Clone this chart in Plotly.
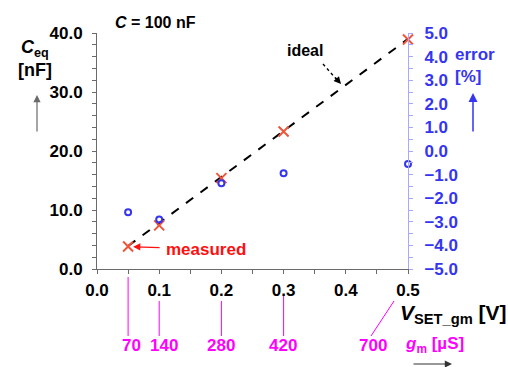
import plotly.graph_objects as go

# Measured equivalent capacitance vs. set voltage
v_set = [0.05, 0.1, 0.2, 0.3, 0.5]
c_eq_measured = [3.8, 7.4, 15.4, 23.3, 38.9]
error_pct = [-2.6, -2.9, -1.37, -0.94, -0.55]

# Ideal characteristic (straight line)
v_ideal = [0.05, 0.5]
c_eq_ideal = [3.9, 39.0]

# Transconductance values belonging to each set voltage
gm_labels = ["70", "140", "280", "420", "700"]

x_ticks = [0.0, 0.1, 0.2, 0.3, 0.4, 0.5]
x_ticktext = ["0.0", "0.1", "0.2", "0.3", "0.4", "0.5"]

W, H = 508, 367
ML, MR, MT, MB = 97, 100, 33, 98
PW, PH = W - ML - MR, H - MT - MB


def px(x):
    return (x - ML) / PW


def py(y):
    return (MT + PH - y) / PH


FONT = "Liberation Sans"
BLUE = "#3535f0"
RED = "#ff1010"
MAGENTA = "#ff00ff"
GRAY = "#6a6a6a"

fig = go.Figure()

fig.add_trace(go.Scatter(
    x=v_ideal, y=c_eq_ideal, mode="lines", cliponaxis=False,
    line=dict(color="black", width=2, dash="dash"),
    showlegend=False, hoverinfo="skip",
))
fig.add_trace(go.Scatter(
    x=v_set, y=c_eq_measured, mode="markers", cliponaxis=False,
    marker=dict(symbol="x-thin-open", size=10, line=dict(color=RED, width=2)),
    showlegend=False,
))
fig.add_trace(go.Scatter(
    x=v_set, y=error_pct, mode="markers", yaxis="y2", cliponaxis=False,
    marker=dict(symbol="circle-open", size=6, color=BLUE, line=dict(color=BLUE, width=2)),
    showlegend=False,
))

tick_font = dict(family=FONT, size=17, color="black", weight="bold")

fig.update_layout(
    width=W, height=H,
    margin=dict(l=ML, r=MR, t=MT, b=MB, pad=0),
    paper_bgcolor="white", plot_bgcolor="white",
    xaxis=dict(
        range=[0, 0.5], tickvals=x_ticks, ticktext=x_ticktext,
        showgrid=False, zeroline=False,
        showline=True, linecolor=GRAY, linewidth=1,
        ticks="outside", ticklen=4, tickcolor=GRAY, tickwidth=1,
        minor=dict(dtick=0.05, tick0=0, ticks="outside", ticklen=4, tickcolor=GRAY),
        tickfont=tick_font, ticklabelstandoff=2,
    ),
    yaxis=dict(
        range=[0, 40], dtick=10, tickformat=".1f",
        showgrid=False, zeroline=False,
        showline=True, linecolor=GRAY, linewidth=1,
        ticks="outside", ticklen=4, tickcolor=GRAY, tickwidth=1,
        minor=dict(dtick=2, ticks="outside", ticklen=4, tickcolor=GRAY),
        tickfont=tick_font, ticklabelstandoff=6,
    ),
    yaxis2=dict(
        range=[-5, 5], dtick=1, tickformat=".1f",
        overlaying="y", side="right", anchor="x",
        showgrid=False, zeroline=False,
        showline=True, linecolor="#a8a8ff", linewidth=1,
        ticks="outside", ticklen=4, tickcolor="#a8a8ff", tickwidth=1,
        minor=dict(dtick=0.5, ticks="outside", ticklen=4, tickcolor="#a8a8ff"),
        tickfont=dict(family=FONT, size=17, color=BLUE, weight="bold"),
        ticklabelstandoff=8,
    ),
)

ann = []


def text(x, y, s, size=17, color="black", xanchor="center", yanchor="middle"):
    ann.append(dict(
        x=px(x), y=py(y), xref="paper", yref="paper", text=s, showarrow=False,
        xanchor=xanchor, yanchor=yanchor,
        font=dict(family=FONT, size=size, color=color, weight="bold"),
    ))


def arrow(x0, y0, x1, y1, color, width=1.2, head=2):
    ann.append(dict(
        x=px(x1), y=py(y1), xref="paper", yref="paper",
        ax=x0 - x1, ay=y0 - y1, text="", showarrow=True,
        arrowhead=head, arrowsize=1.2, arrowwidth=width, arrowcolor=color,
    ))


text(155, 23, "<i>C</i> = 100 nF", size=16)
text(35, 48, "<i>C</i><sub>eq</sub>", size=18)
text(35, 70, "[nF]", size=18)
arrow(37, 133, 37, 95, GRAY)

text(453, 54, "error", size=17, color=BLUE, xanchor="left")
text(453, 76, "[%]", size=17, color=BLUE, xanchor="left")
arrow(473, 133, 473, 93, BLUE, width=1.5)

text(305, 50, "ideal", size=16)
fig.add_shape(type="line", xref="paper", yref="paper",
              x0=px(323), y0=py(64), x1=px(337), y1=py(80),
              line=dict(color="black", width=1.3, dash="3px,3px"))
arrow(334, 76, 341, 84, "black")

text(206, 249, "measured", size=17, color=RED)
ann.append(dict(
    x=v_set[0], y=c_eq_measured[0], xref="x", yref="y",
    ax=33, ay=1, text="", showarrow=True, standoff=5,
    arrowhead=2, arrowsize=1.2, arrowwidth=1.2, arrowcolor=RED,
))

# gm scale below the voltage axis
gm_font = dict(family=FONT, size=17, color=MAGENTA, weight="bold")
label_shift = [3, 5, 0, -1, 0]
for i, v in enumerate(v_set):
    if i == len(v_set) - 1:
        fig.add_shape(type="line", xref="paper", yref="paper",
                      x0=px(394), y0=py(301), x1=px(371), y1=py(336),
                      line=dict(color=MAGENTA, width=1))
        ann.append(dict(x=px(373), y=py(345), xref="paper", yref="paper",
                        xanchor="center", yanchor="middle",
                        text=gm_labels[i], showarrow=False, font=gm_font))
    else:
        top = 277 if i == 0 else (296 if i == 3 else 301)
        fig.add_shape(type="line", xref="x", yref="paper",
                      x0=v, x1=v, y0=py(top), y1=py(336),
                      line=dict(color=MAGENTA, width=1))
        ann.append(dict(x=v, y=py(345), xref="x", yref="paper",
                        xanchor="center", yanchor="middle",
                        xshift=label_shift[i], text=gm_labels[i], showarrow=False,
                        font=gm_font))

text(398, 314, "<i>V</i><sub>SET_gm</sub> [V]", size=21, xanchor="left")
text(403, 345, "<i>g</i><sub>m</sub> [µS]", size=17, color=MAGENTA, xanchor="left")
arrow(412, 364, 452, 364, "#333333")

fig.update_layout(annotations=ann)
fig.write_html("out.html")
